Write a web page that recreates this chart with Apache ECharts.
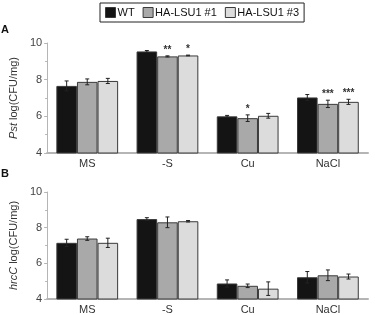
<!DOCTYPE html>
<html>
<head>
	<meta charset="utf-8">
	<title>Pst / hrcC</title>
	<script src="https://cdn.jsdelivr.net/npm/echarts@6/dist/echarts.min.js"></script>
	<style>
		html, body { margin: 0; padding: 0; background: #fff; }
		#chart { width: 375px; height: 315px; }
	</style>
</head>
<body>
	<div id="chart"></div>
	<script>
		var categories = ['MS', '-S', 'Cu', 'NaCl'];
		var names = ['WT', 'HA-LSU1 #1', 'HA-LSU1 #3'];
		var yTicks = [4, 6, 8, 10];

		// panel A: Pst
		var wtA = [7.66, 9.54, 6.0, 7.03];
		var lsu1A = [7.88, 9.27, 5.9, 6.68];
		var lsu3A = [7.93, 9.32, 6.03, 6.79];
		var wtAErr = [0.27, 0.05, 0.05, 0.16];
		var lsu1AErr = [0.16, 0.03, 0.18, 0.2];
		var lsu3AErr = [0.14, 0.02, 0.13, 0.14];
		var wtAStars = ['', '', '', ''];
		var lsu1AStars = ['', '**', '*', '***'];
		var lsu3AStars = ['', '*', '', '***'];

		// panel B: hrcC
		var wtB = [7.15, 8.48, 4.87, 5.22];
		var lsu1B = [7.39, 8.3, 4.74, 5.33];
		var lsu3B = [7.15, 8.36, 4.58, 5.26];
		var wtBErr = [0.2, 0.08, 0.2, 0.32];
		var lsu1BErr = [0.1, 0.3, 0.1, 0.3];
		var lsu3BErr = [0.26, 0.04, 0.38, 0.14];
		var noStars = ['', '', '', ''];

		var colors = ['#141414', '#a9a9a9', '#dcdcdc'];
		var catGap = 0.23;

		var chart = echarts.init(document.getElementById('chart'));

		function errorSeries(name, k, vals, errs, stars, gi) {
			var data = vals.map(function (v, i) { return [i, v, errs[i]]; });
			return {
				type: 'custom',
				name: name + ' err',
				xAxisIndex: gi,
				yAxisIndex: gi,
				z: 5,
				encode: { x: 0, y: 1 },
				data: data,
				renderItem: function (params, api) {
					var x = api.value(0), v = api.value(1), e = api.value(2);
					var hi = api.coord([x, v + e]);
					var lo = api.coord([x, v - e]);
					var bw = api.size([1, 0])[0] * (1 - catGap) / 3;
					var cx = hi[0] + (k - 1) * bw;
					var st = { stroke: '#222', lineWidth: 1 };
					var kids = [
						{ type: 'line', shape: { x1: cx, y1: hi[1], x2: cx, y2: lo[1] }, style: st },
						{ type: 'line', shape: { x1: cx - 2, y1: hi[1], x2: cx + 2, y2: hi[1] }, style: st },
						{ type: 'line', shape: { x1: cx - 2, y1: lo[1], x2: cx + 2, y2: lo[1] }, style: st }
					];
					var s = stars[params.dataIndex];
					if (s) {
						kids.push({
							type: 'text',
							style: {
								text: s, x: cx, y: hi[1] - 1,
								align: 'center', verticalAlign: 'bottom',
								fill: '#333', font: 'bold 10px "Liberation Sans"'
							}
						});
					}
					return { type: 'group', children: kids };
				}
			};
		}

		function barSeries(name, k, vals, gi) {
			return {
				type: 'bar',
				name: name,
				xAxisIndex: gi,
				yAxisIndex: gi,
				barGap: 0,
				barCategoryGap: (catGap * 100) + '%',
				itemStyle: { color: colors[k], borderColor: '#3a3a3a', borderWidth: 1 },
				data: vals
			};
		}

		function xAxis(gi) {
			return {
				type: 'category',
				gridIndex: gi,
				data: categories,
				axisTick: { show: false },
				axisLine: { lineStyle: { color: '#b5b5b5', width: 2 } },
				axisLabel: { color: '#333', fontSize: 11, margin: 5, fontFamily: 'Liberation Sans' }
			};
		}

		function yAxis(gi, label) {
			return {
				type: 'value',
				gridIndex: gi,
				min: yTicks[0],
				max: yTicks[yTicks.length - 1],
				interval: 2,
				name: label,
				nameLocation: 'middle',
				nameGap: 22,
				nameTextStyle: {
					color: '#333', fontSize: 11, fontFamily: 'Liberation Sans',
					rich: { i: { fontStyle: 'italic', fontSize: 11, color: '#333', fontFamily: 'Liberation Sans' } }
				},
				splitLine: { show: false },
				axisLine: { show: true, lineStyle: { color: '#b5b5b5' } },
				axisTick: { show: true, length: 3, lineStyle: { color: '#b5b5b5' } },
				minorTick: { show: true, splitNumber: 2, length: 2, lineStyle: { color: '#b5b5b5' } },
				axisLabel: { color: '#444', fontSize: 11, margin: 5, fontFamily: 'Liberation Sans' }
			};
		}

		var option = {
			animation: false,
			textStyle: { fontFamily: 'Liberation Sans' },
			legend: {
				data: names,
				icon: 'rect',
				left: 100,
				top: 3,
				padding: [4, 5, 4, 5],
				itemGap: 8,
				itemWidth: 10,
				itemHeight: 10,
				itemStyle: { borderColor: '#3a3a3a', borderWidth: 1 },
				borderColor: '#222',
				borderWidth: 1,
				textStyle: { color: '#111', fontSize: 11, padding: [0, 0, 0, -3] },
				selectedMode: false
			},
			graphic: [
				{ type: 'text', left: 1, top: 24, style: { text: 'A', font: 'bold 11px "Liberation Sans"', fill: '#111' } },
				{ type: 'text', left: 1, top: 168, style: { text: 'B', font: 'bold 11px "Liberation Sans"', fill: '#111' } }
			],
			grid: [
				{ left: 40, right: 7, top: 43, height: 110 },
				{ left: 40, right: 7, top: 192, height: 110 }
			],
			xAxis: [xAxis(0), xAxis(1)],
			yAxis: [yAxis(0, '{i|Pst} log(CFU/mg)'), yAxis(1, '{i|hrcC} log(CFU/mg)')],
			series: [
				barSeries(names[0], 0, wtA, 0),
				barSeries(names[1], 1, lsu1A, 0),
				barSeries(names[2], 2, lsu3A, 0),
				barSeries(names[0], 0, wtB, 1),
				barSeries(names[1], 1, lsu1B, 1),
				barSeries(names[2], 2, lsu3B, 1),
				errorSeries(names[0], 0, wtA, wtAErr, wtAStars, 0),
				errorSeries(names[1], 1, lsu1A, lsu1AErr, lsu1AStars, 0),
				errorSeries(names[2], 2, lsu3A, lsu3AErr, lsu3AStars, 0),
				errorSeries(names[0], 0, wtB, wtBErr, noStars, 1),
				errorSeries(names[1], 1, lsu1B, lsu1BErr, noStars, 1),
				errorSeries(names[2], 2, lsu3B, lsu3BErr, noStars, 1)
			]
		};

		chart.setOption(option);
	</script>
</body>
</html>
